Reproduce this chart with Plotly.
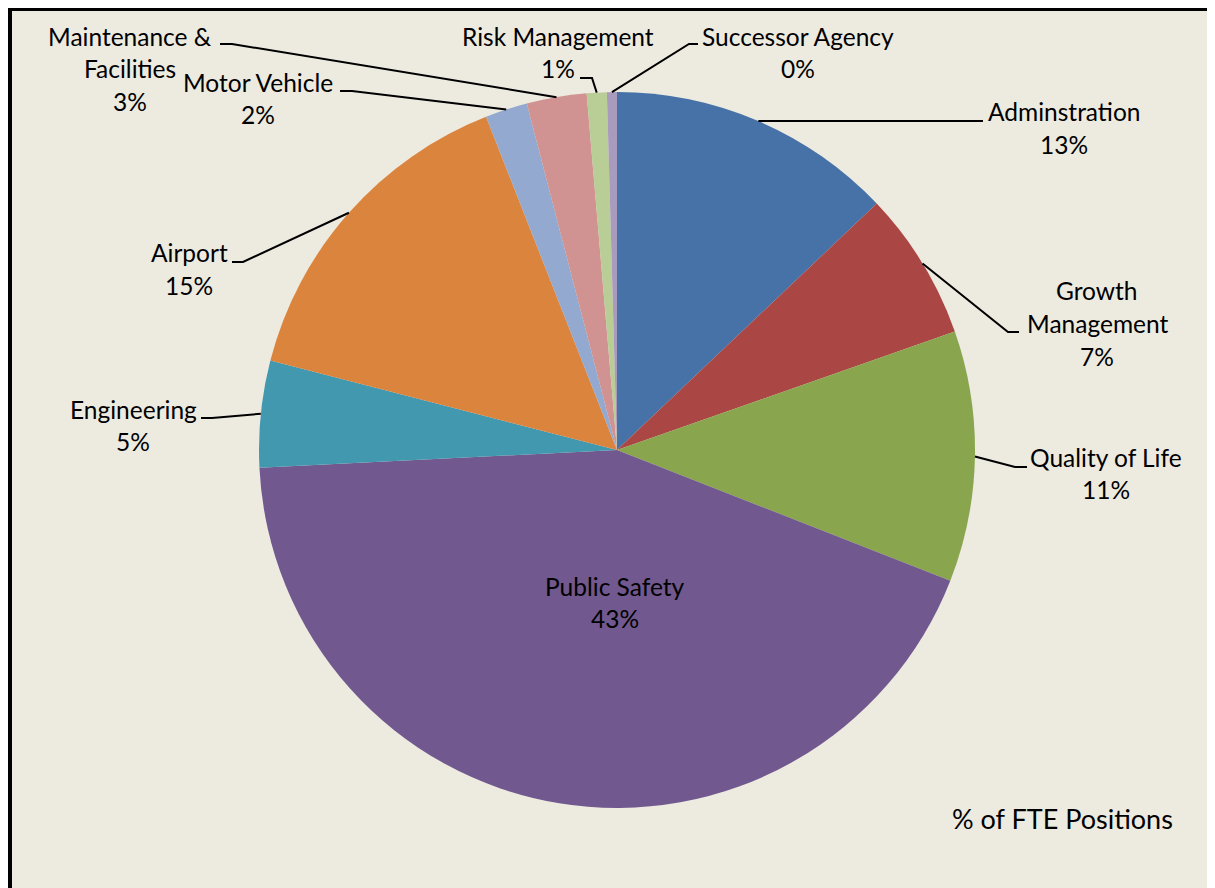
import math
import plotly.graph_objects as go

# ---- data ----
labels = ["Adminstration", "Growth Management", "Quality of Life", "Public Safety",
          "Engineering", "Airport", "Motor Vehicle", "Maintenance & Facilities",
          "Risk Management", "Successor Agency"]
values = [12.9, 6.7, 11.3, 43.2, 4.8, 15.0, 1.9, 2.7, 0.9, 0.45]
label_lines = [["Adminstration"], ["Growth", "Management"], ["Quality of Life"],
               ["Public Safety"], ["Engineering"], ["Airport"], ["Motor Vehicle"],
               ["Maintenance &", "Facilities"], ["Risk Management"], ["Successor Agency"]]
chart_note = "% of FTE Positions"

# ---- style / layout ----
colors = ["#4672A8", "#AA4644", "#89A54E", "#71588F", "#4198AF",
          "#DB843D", "#93A9CF", "#D19392", "#B9CD96", "#A99BBD"]
OFF = 8  # page body margin
W, H = 1215 - OFF, 888 - OFF
CX, CY, R = 617, 450, 358
FONT = "Lato"
FS = 24.5
NOTE_FS = 27
LINE_GAP = 32.5
# label first-line centre (page px) and leader geometry: (text end point, elbow point) or None
label_pos = [(1064, 112), (1097, 291), (1106, 457), (615, 586), (133, 409),
             (189, 253), (258, 82), (130, 36), (558, 36), (798, 36)]
leaders = [((983, 121), (973, 121)), ((1019, 332), (1008, 332)), ((1027, 467), (1015, 467)),
           None, ((201, 418), (212, 418)), ((232, 262), (243, 262)),
           ((340, 91), (352, 91)), ((220, 44), (232, 44)), ((580, 78), (592, 78)),
           ((698, 44), (689, 44))]
BG = "#EDEAE0"


def px(x):
    return (x - OFF) / W


def py(y):
    return 1 - (y - OFF) / H


fig = go.Figure()
fig.add_trace(go.Pie(
    labels=labels, values=values, sort=False, direction="clockwise", rotation=0,
    marker=dict(colors=colors, line=dict(width=0)),
    textinfo="none", hoverinfo="label+percent", showlegend=False,
    domain=dict(x=[px(CX - R), px(CX + R)], y=[py(CY + R), py(CY - R)]),
))

total = sum(values)
shapes = [
    dict(type="line", xref="paper", yref="paper", x0=px(10), x1=px(10), y0=py(H + 40), y1=py(7),
         line=dict(color="black", width=4)),
    dict(type="line", xref="paper", yref="paper", x0=px(8), x1=px(W + 40), y0=py(9), y1=py(9),
         line=dict(color="black", width=4)),
]
annotations = []
cum = 0.0
for i, v in enumerate(values):
    mid = (cum + v / 2) / total * 2 * math.pi
    cum += v
    pct = f"{round(v / total * 100):.0f}%"
    lines = label_lines[i] + [pct]
    lx, ly = label_pos[i]
    for k, t in enumerate(lines):
        annotations.append(dict(
            x=px(lx), y=py(ly + k * LINE_GAP), xref="paper", yref="paper",
            text=t, showarrow=False, xanchor="center", yanchor="middle",
            font=dict(family=FONT, size=FS, color="black")))
    if leaders[i] is not None:
        (ex, ey), (bx, by) = leaders[i]
        sx = CX + R * math.sin(mid)
        sy = CY - R * math.cos(mid)
        path = f"M {px(sx)},{py(sy)} L {px(bx)},{py(by)} L {px(ex)},{py(ey)}"
        shapes.append(dict(type="path", xref="paper", yref="paper", path=path,
                           line=dict(color="black", width=2)))

annotations.append(dict(x=px(1062), y=py(818), xref="paper", yref="paper",
                        text=chart_note, showarrow=False, xanchor="center", yanchor="middle",
                        font=dict(family=FONT, size=NOTE_FS, color="black")))

fig.update_layout(
    width=W, height=H, margin=dict(l=0, r=0, t=0, b=0),
    paper_bgcolor=BG, plot_bgcolor=BG,
    shapes=shapes, annotations=annotations,
    font=dict(family=FONT, size=FS, color="black"),
)
fig.write_html("out.html")
